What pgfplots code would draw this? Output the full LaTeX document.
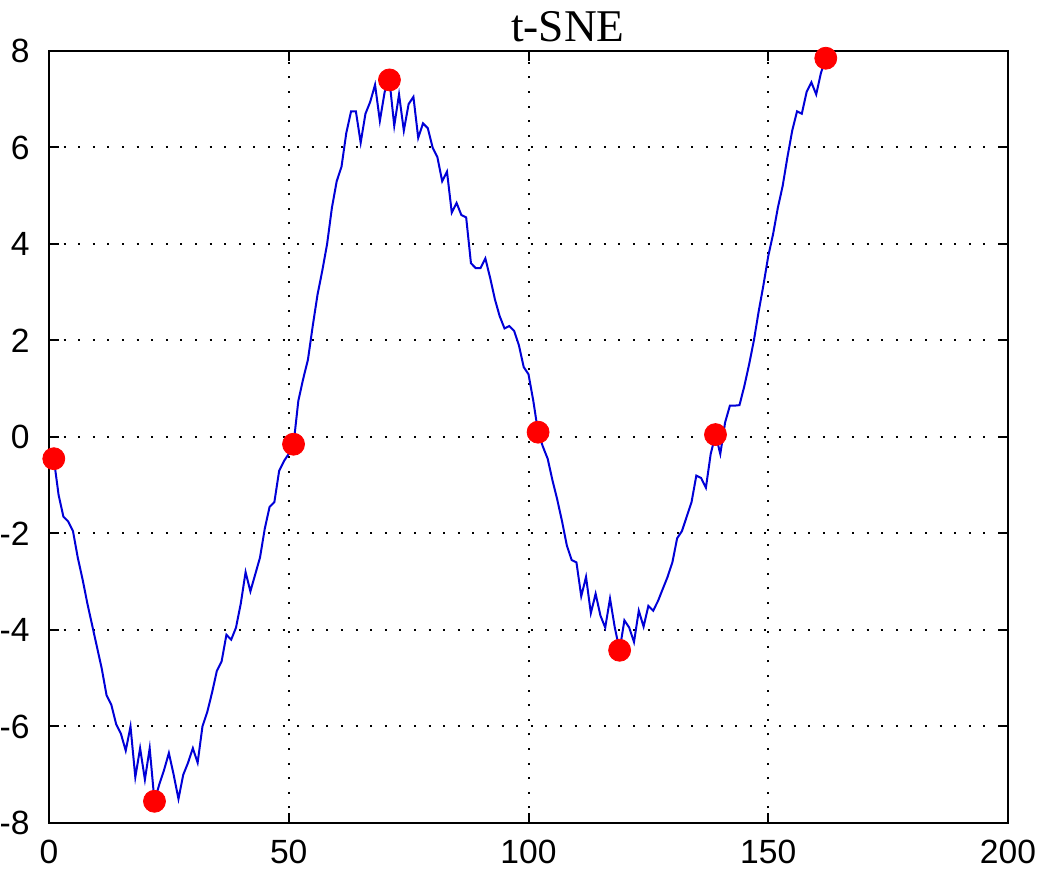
\documentclass[border=0pt]{standalone}
\usepackage{fontspec}
\setmainfont{Liberation Sans}
\newfontfamily\titlefont{Liberation Serif}
\usepackage{pgfplots}
\usepackage{pgfplotstable}
\pgfplotsset{compat=1.18}
\definecolor{mblue}{RGB}{0,0,215}
\pgfplotstableread{
x y
1 -0.45
2 -1.2
3 -1.65
4 -1.75
5 -1.95
6 -2.5
7 -2.95
8 -3.45
9 -3.9
10 -4.35
11 -4.8
12 -5.35
13 -5.55
14 -5.95
15 -6.15
16 -6.5
17 -6.0
18 -7.05
19 -6.45
20 -7.1
21 -6.45
22 -7.55
23 -7.2
24 -6.9
25 -6.55
26 -7.0
27 -7.5
28 -7.0
29 -6.75
30 -6.45
31 -6.75
32 -6.0
33 -5.7
34 -5.3
35 -4.85
36 -4.65
37 -4.1
38 -4.2
39 -3.95
40 -3.45
41 -2.8
42 -3.2
43 -2.85
44 -2.5
45 -1.9
46 -1.45
47 -1.35
48 -0.7
49 -0.5
50 -0.35
51 -0.15
52 0.75
53 1.2
54 1.6
55 2.3
56 2.95
57 3.45
58 4.0
59 4.75
60 5.3
61 5.6
62 6.3
63 6.75
64 6.75
65 6.1
66 6.7
67 6.95
68 7.3
69 6.55
70 7.15
71 7.4
72 6.45
73 7.1
74 6.35
75 6.9
76 7.05
77 6.2
78 6.5
79 6.4
80 6.0
81 5.8
82 5.3
83 5.5
84 4.65
85 4.85
86 4.6
87 4.55
88 3.6
89 3.5
90 3.5
91 3.7
92 3.3
93 2.85
94 2.5
95 2.25
96 2.3
97 2.2
98 1.9
99 1.45
100 1.3
101 0.75
102 0.1
103 -0.2
104 -0.45
105 -0.9
106 -1.3
107 -1.75
108 -2.25
109 -2.55
110 -2.6
111 -3.3
112 -2.9
113 -3.65
114 -3.25
115 -3.7
116 -3.95
117 -3.35
118 -3.95
119 -4.42
120 -3.8
121 -3.95
122 -4.25
123 -3.6
124 -3.93
125 -3.5
126 -3.6
127 -3.4
128 -3.15
129 -2.9
130 -2.6
131 -2.1
132 -1.95
133 -1.65
134 -1.35
135 -0.8
136 -0.85
137 -1.05
138 -0.35
139 0.05
140 -0.35
141 0.3
142 0.65
143 0.65
144 0.66
145 1.05
146 1.5
147 2.0
148 2.6
149 3.15
150 3.75
151 4.2
152 4.75
153 5.2
154 5.8
155 6.35
156 6.75
157 6.7
158 7.15
159 7.35
160 7.1
161 7.55
162 7.85
}\tsne
\pgfplotstableread{
x y
1 -0.45
22 -7.55
51 -0.15
71 7.4
102 0.1
119 -4.42
139 0.05
162 7.85
}\dots
\begin{document}
\begin{tikzpicture}
\begin{axis}[name=ax, scale only axis, width=479.5bp, height=386bp,
  xmin=0, xmax=200, ymin=-8, ymax=8,
  xtick={0,50,100,150,200}, ytick={-8,-6,-4,-2,0,2,4,6,8},
  grid=major,
  major grid style={black, line width=1bp, dash pattern=on 1bp off 6.3bp},
  axis line style={black, line width=1bp},
  every tick/.style={black, line width=1bp},
  major tick length=5bp, tick align=inside,
  xtick pos=both, ytick pos=both,
  /pgf/number format/assume math mode=true,
  ticklabel style={font=\fontsize{16.8bp}{18bp}\selectfont, inner sep=0pt},
  yticklabel style={xshift=-9.5bp},
  xticklabel style={yshift=-8.5bp},
  title={t-SNE},
  title style={font=\titlefont\fontsize{22.7bp}{26bp}\selectfont, at={(0.541,1)}, anchor=base, yshift=-1bp, inner sep=0pt},
  clip=false]
\addplot[mblue, line width=1bp, mark=none] table[x=x,y=y] {\tsne};
\addplot[only marks, mark=*, mark size=5.5bp, mark options={fill=red, draw=red}] table[x=x,y=y] {\dots};
\end{axis}
\pgfresetboundingbox
\path[use as bounding box] ([xshift=-24.5bp,yshift=-26bp]ax.south west) rectangle ([xshift=17bp,yshift=25.5bp]ax.north east);
\end{tikzpicture}
\end{document}
